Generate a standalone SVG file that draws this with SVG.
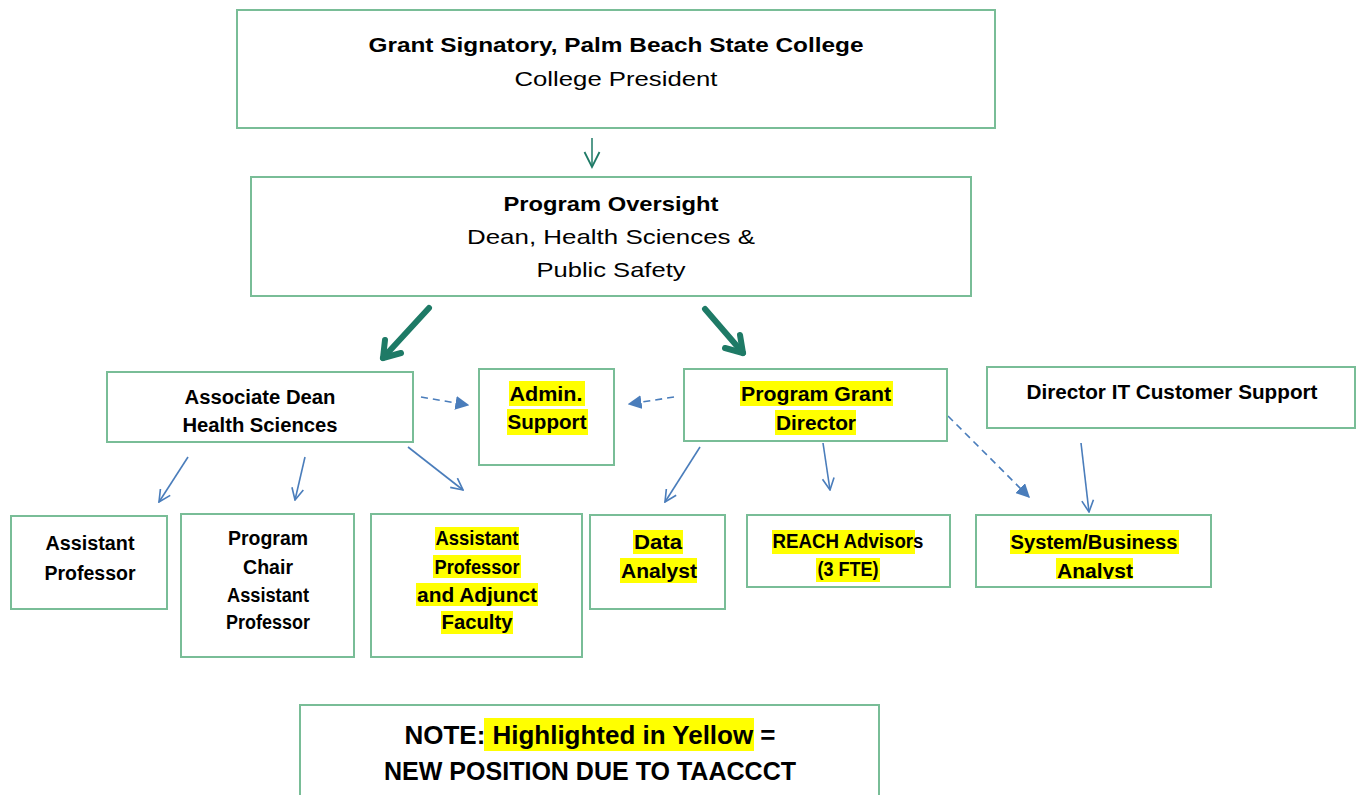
<svg xmlns="http://www.w3.org/2000/svg" width="1359" height="795" viewBox="0 0 1359 795">
<style>
.box{fill:#fff;stroke:#79bd97;stroke-width:2}
.t{font-family:"Liberation Sans",Arial,sans-serif;text-anchor:middle;fill:#000}
.b{font-weight:bold}
.s{font-size:20px}
.l{font-size:21px}
.n{font-size:25px}
.hl{fill:#ffff00}
.blue{stroke:#4a7dbb;stroke-width:1.6;fill:none}
.dash{stroke-dasharray:7 5}
.teal{stroke:#1e7a66;fill:none}
</style>
<defs>
<marker id="open" viewBox="0 0 12 12" refX="11" refY="6" markerWidth="14" markerHeight="14" markerUnits="userSpaceOnUse" orient="auto"><path d="M1,1 L11,6 L1,11" fill="none" stroke="#4a7dbb" stroke-width="1.4"/></marker>
<marker id="tri" viewBox="0 0 10 10" refX="9" refY="5" markerWidth="14" markerHeight="14" markerUnits="userSpaceOnUse" orient="auto"><path d="M0,0 L10,5 L0,10 Z" fill="#4a7dbb"/></marker>
<marker id="openT" viewBox="0 0 12 12" refX="11" refY="6" markerWidth="18" markerHeight="18" markerUnits="userSpaceOnUse" orient="auto"><path d="M1,1 L11,6 L1,11" fill="none" stroke="#1e7a66" stroke-width="1.2"/></marker>
<clipPath id="sysclip"><rect x="976" y="515" width="236" height="64"/></clipPath>
</defs>

<g id="connectors">
<line class="teal" x1="592" y1="138" x2="592" y2="167" stroke-width="1.5" marker-end="url(#openT)"/>
<g stroke="#1e7a66" stroke-width="6" stroke-linecap="round" fill="none">
<path d="M429,308 L383,358"/><path d="M383,358 L385,340 M383,358 L401,353"/>
<path d="M705,309 L743,353"/><path d="M743,353 L740,335 M743,353 L725,348"/>
</g>
<line class="blue dash" x1="421" y1="397" x2="468" y2="405" marker-end="url(#tri)"/>
<line class="blue dash" x1="674" y1="397" x2="629" y2="404" marker-end="url(#tri)"/>
<line class="blue dash" x1="948" y1="416" x2="1029" y2="497" marker-end="url(#tri)"/>
<line class="blue" x1="188" y1="457" x2="159" y2="502" marker-end="url(#open)"/>
<line class="blue" x1="305" y1="457" x2="295" y2="500" marker-end="url(#open)"/>
<line class="blue" x1="408" y1="447" x2="463" y2="490" marker-end="url(#open)"/>
<line class="blue" x1="700" y1="447" x2="665" y2="502" marker-end="url(#open)"/>
<line class="blue" x1="823" y1="443" x2="830" y2="490" marker-end="url(#open)"/>
<line class="blue" x1="1081" y1="443" x2="1089" y2="512" marker-end="url(#open)"/>
</g>

<g id="grant-signatory">
<rect class="box" x="237" y="10" width="758" height="118"/>
<text class="t b l" x="616" y="52" textLength="495" lengthAdjust="spacingAndGlyphs">Grant Signatory, Palm Beach State College</text>
<text class="t l" x="616" y="86" textLength="203" lengthAdjust="spacingAndGlyphs">College President</text>
</g>

<g id="program-oversight">
<rect class="box" x="251" y="177" width="720" height="119"/>
<text class="t b l" x="611" y="211" textLength="215" lengthAdjust="spacingAndGlyphs">Program Oversight</text>
<text class="t l" x="611" y="244" textLength="288" lengthAdjust="spacingAndGlyphs">Dean, Health Sciences &amp;</text>
<text class="t l" x="611" y="277" textLength="149" lengthAdjust="spacingAndGlyphs">Public Safety</text>
</g>

<g id="associate-dean">
<rect class="box" x="107" y="372" width="306" height="70"/>
<text class="t b s" x="260" y="404" textLength="151" lengthAdjust="spacingAndGlyphs">Associate Dean</text>
<text class="t b s" x="260" y="432" textLength="155" lengthAdjust="spacingAndGlyphs">Health Sciences</text>
</g>

<g id="admin-support">
<rect class="box" x="479" y="369" width="135" height="96"/>
<rect class="hl" x="509" y="381" width="76" height="25"/>
<rect class="hl" x="507" y="409" width="81" height="26"/>
<text class="t b s" x="546" y="401" textLength="73" lengthAdjust="spacingAndGlyphs">Admin.</text>
<text class="t b s" x="547" y="429" textLength="79" lengthAdjust="spacingAndGlyphs">Support</text>
</g>

<g id="program-grant-director">
<rect class="box" x="684" y="369" width="263" height="72"/>
<rect class="hl" x="740" y="381" width="153" height="25"/>
<rect class="hl" x="775" y="410" width="81" height="25"/>
<text class="t b s" x="816" y="401" textLength="150" lengthAdjust="spacingAndGlyphs">Program Grant</text>
<text class="t b s" x="816" y="430" textLength="80" lengthAdjust="spacingAndGlyphs">Director</text>
</g>

<g id="director-it">
<rect class="box" x="987" y="367" width="368" height="61"/>
<text class="t b s" x="1172" y="399" textLength="291" lengthAdjust="spacingAndGlyphs">Director IT Customer Support</text>
</g>

<g id="assistant-professor">
<rect class="box" x="11" y="516" width="156" height="93"/>
<text class="t b s" x="90" y="550" textLength="89" lengthAdjust="spacingAndGlyphs">Assistant</text>
<text class="t b s" x="90" y="580" textLength="91" lengthAdjust="spacingAndGlyphs">Professor</text>
</g>

<g id="program-chair">
<rect class="box" x="181" y="514" width="173" height="143"/>
<text class="t b s" x="268" y="545" textLength="80" lengthAdjust="spacingAndGlyphs">Program</text>
<text class="t b s" x="268" y="574" textLength="50" lengthAdjust="spacingAndGlyphs">Chair</text>
<text class="t b s" x="268" y="602" textLength="82" lengthAdjust="spacingAndGlyphs">Assistant</text>
<text class="t b s" x="268" y="629" textLength="84" lengthAdjust="spacingAndGlyphs">Professor</text>
</g>

<g id="asst-prof-adjunct">
<rect class="box" x="371" y="514" width="211" height="143"/>
<rect class="hl" x="435" y="527" width="84" height="23"/>
<rect class="hl" x="433" y="555" width="88" height="23"/>
<rect class="hl" x="416" y="583" width="122" height="23"/>
<rect class="hl" x="441" y="611" width="72" height="23"/>
<text class="t b s" x="477" y="545" textLength="83" lengthAdjust="spacingAndGlyphs">Assistant</text>
<text class="t b s" x="477" y="574" textLength="85" lengthAdjust="spacingAndGlyphs">Professor</text>
<text class="t b s" x="477" y="602" textLength="120" lengthAdjust="spacingAndGlyphs">and Adjunct</text>
<text class="t b s" x="477" y="629" textLength="71" lengthAdjust="spacingAndGlyphs">Faculty</text>
</g>

<g id="data-analyst">
<rect class="box" x="590" y="515" width="135" height="94"/>
<rect class="hl" x="633" y="530" width="50" height="24"/>
<rect class="hl" x="620" y="558" width="77" height="25"/>
<text class="t b s" x="658" y="549" textLength="48" lengthAdjust="spacingAndGlyphs">Data</text>
<text class="t b s" x="659" y="578" textLength="76" lengthAdjust="spacingAndGlyphs">Analyst</text>
</g>

<g id="reach-advisors">
<rect class="box" x="747" y="515" width="203" height="72"/>
<rect class="hl" x="772" y="530" width="143" height="24"/>
<rect class="hl" x="816" y="558" width="64" height="24"/>
<text class="t b s" x="848" y="548" textLength="151" lengthAdjust="spacingAndGlyphs">REACH Advisors</text>
<text class="t b s" x="848" y="576" textLength="61" lengthAdjust="spacingAndGlyphs">(3 FTE)</text>
</g>

<g id="system-analyst">
<rect class="box" x="976" y="515" width="235" height="72"/>
<g clip-path="url(#sysclip)">
<rect class="hl" x="1010" y="530" width="169" height="24"/>
<rect class="hl" x="1056" y="558" width="77" height="25"/>
<text class="t b s" x="1094" y="549" textLength="167" lengthAdjust="spacingAndGlyphs">System/Business</text>
<text class="t b s" x="1095" y="578" textLength="76" lengthAdjust="spacingAndGlyphs">Analyst</text>
</g>
</g>

<g id="note">
<rect class="box" x="300" y="705" width="579" height="100"/>
<rect class="hl" x="484" y="718" width="270" height="33"/>
<text class="t b n" x="590" y="744" textLength="371" lengthAdjust="spacingAndGlyphs">NOTE: Highlighted in Yellow =</text>
<text class="t b n" x="590" y="780" textLength="412" lengthAdjust="spacingAndGlyphs">NEW POSITION DUE TO TAACCCT</text>
</g>
</svg>
